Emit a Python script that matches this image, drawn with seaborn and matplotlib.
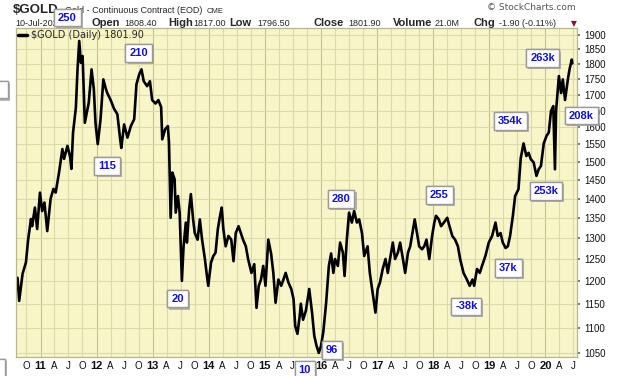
import numpy as np
import pandas as pd
import seaborn as sns
import matplotlib.pyplot as plt
import matplotlib.ticker as mticker
import matplotlib.patheffects as pe

# gold continuous contract (decimal year, price)
years = [
    2010.59, 2010.62, 2010.68, 2010.74, 2010.78, 2010.83, 2010.85, 2010.90, 2010.94, 2010.99,
    2011.03, 2011.07, 2011.12, 2011.18, 2011.23, 2011.27, 2011.33, 2011.39, 2011.42, 2011.48,
    2011.53, 2011.55, 2011.58, 2011.63, 2011.66, 2011.69, 2011.72, 2011.75, 2011.79, 2011.83,
    2011.86, 2011.91, 2011.95, 2011.98, 2012.02, 2012.07, 2012.12, 2012.16, 2012.19, 2012.25,
    2012.31, 2012.37, 2012.42, 2012.44, 2012.49, 2012.55, 2012.61, 2012.67, 2012.71, 2012.76,
    2012.80, 2012.84, 2012.90, 2012.95, 2012.99, 2013.05, 2013.10, 2013.15, 2013.17, 2013.22,
    2013.27, 2013.29, 2013.32, 2013.35, 2013.39, 2013.41, 2013.45, 2013.48, 2013.52, 2013.55,
    2013.59, 2013.61, 2013.65, 2013.68, 2013.72, 2013.75, 2013.80, 2013.84, 2013.88, 2013.93,
    2013.96, 2013.99, 2014.04, 2014.08, 2014.12, 2014.16, 2014.20, 2014.23, 2014.26, 2014.30,
    2014.35, 2014.40, 2014.44, 2014.48, 2014.53, 2014.57, 2014.61, 2014.66, 2014.70, 2014.76,
    2014.81, 2014.85, 2014.89, 2014.93, 2014.97, 2015.01, 2015.06, 2015.11, 2015.15, 2015.19,
    2015.24, 2015.29, 2015.33, 2015.37, 2015.42, 2015.47, 2015.51, 2015.54, 2015.58, 2015.62,
    2015.64, 2015.68, 2015.73, 2015.79, 2015.84, 2015.88, 2015.92, 2015.96, 2016.00, 2016.04,
    2016.09, 2016.14, 2016.18, 2016.22, 2016.25, 2016.30, 2016.34, 2016.39, 2016.42, 2016.46,
    2016.50, 2016.55, 2016.59, 2016.64, 2016.68, 2016.73, 2016.77, 2016.83, 2016.87, 2016.92,
    2016.97, 2017.01, 2017.05, 2017.10, 2017.15, 2017.19, 2017.23, 2017.28, 2017.32, 2017.37,
    2017.41, 2017.46, 2017.50, 2017.55, 2017.59, 2017.63, 2017.67, 2017.71, 2017.75, 2017.80,
    2017.84, 2017.88, 2017.93, 2017.98, 2018.02, 2018.05, 2018.10, 2018.14, 2018.19, 2018.25,
    2018.29, 2018.34, 2018.39, 2018.44, 2018.48, 2018.54, 2018.60, 2018.65, 2018.70, 2018.73,
    2018.78, 2018.83, 2018.87, 2018.93, 2018.99, 2019.05, 2019.11, 2019.15, 2019.20, 2019.24,
    2019.29, 2019.33, 2019.37, 2019.42, 2019.46, 2019.52, 2019.56, 2019.61, 2019.66, 2019.70,
    2019.74, 2019.79, 2019.84, 2019.88, 2019.92, 2019.97, 2020.02, 2020.06, 2020.10, 2020.14,
    2020.17, 2020.19, 2020.24, 2020.28, 2020.31, 2020.35, 2020.40, 2020.43, 2020.47, 2020.48,
]
prices = [
    1208, 1157, 1217, 1243, 1298, 1348, 1330, 1377, 1323, 1416,
    1368, 1390, 1318, 1400, 1426, 1416, 1470, 1536, 1508, 1545,
    1512, 1480, 1584, 1659, 1783, 1879, 1804, 1827, 1613, 1649,
    1675, 1782, 1718, 1613, 1550, 1624, 1749, 1721, 1705, 1683,
    1656, 1639, 1564, 1539, 1608, 1569, 1603, 1624, 1733, 1766,
    1782, 1743, 1727, 1743, 1683, 1672, 1683, 1661, 1564, 1593,
    1603, 1555, 1351, 1470, 1452, 1364, 1407, 1364, 1201, 1281,
    1339, 1290, 1373, 1412, 1347, 1313, 1297, 1347, 1297, 1251,
    1219, 1190, 1243, 1258, 1266, 1322, 1356, 1377, 1322, 1281,
    1306, 1297, 1246, 1313, 1330, 1313, 1297, 1281, 1251, 1219,
    1239, 1142, 1190, 1204, 1235, 1190, 1297, 1264, 1219, 1153,
    1204, 1190, 1204, 1219, 1197, 1183, 1161, 1104, 1088, 1125,
    1151, 1117, 1136, 1183, 1132, 1084, 1064, 1050, 1064, 1091,
    1151, 1235, 1264, 1219, 1251, 1235, 1290, 1266, 1212, 1297,
    1364, 1339, 1368, 1339, 1347, 1313, 1258, 1281, 1219, 1175,
    1132, 1183, 1197, 1228, 1251, 1219, 1251, 1290, 1251, 1266,
    1290, 1251, 1219, 1266, 1281, 1313, 1347, 1313, 1281, 1274,
    1281, 1297, 1251, 1306, 1339, 1356, 1347, 1330, 1339, 1351,
    1330, 1306, 1297, 1281, 1251, 1219, 1204, 1190, 1204, 1190,
    1228, 1219, 1235, 1258, 1290, 1306, 1339, 1306, 1313, 1290,
    1277, 1281, 1306, 1356, 1407, 1425, 1510, 1552, 1516, 1525,
    1507, 1498, 1461, 1479, 1488, 1552, 1574, 1584, 1649, 1664,
    1479, 1649, 1760, 1705, 1749, 1683, 1749, 1782, 1815, 1802,
]

# net position call-outs
note_text = ["250", "210", "115", "20", "10", "96", "280", "255",
             "-38k", "37k", "354k", "253k", "263k", "208k", "        ", "        "]
note_year = [2011.48, 2012.75, 2012.19, 2013.44, 2015.71, 2016.19, 2016.36, 2018.11,
             2018.59, 2019.34, 2019.38, 2020.01, 2019.95, 2020.64, 2010.12, 2010.08]
note_price = [1963, 1837, 1489, 1162, 1017, 1056, 1400, 1410,
              1145, 1230, 1618, 1421, 1819, 1635, 1716, 1021]

y_ticks = list(range(1050, 1901, 50))
quarter_names = {1: None, 4: "A", 7: "J", 10: "O"}


def to_date(yrs):
    yrs = np.asarray(yrs, dtype=float)
    return pd.to_datetime("2011-01-01") + pd.to_timedelta((yrs - 2011) * 365.25, unit="D")


df = pd.DataFrame({"date": to_date(years), "price": prices})

sns.set_theme(style="white")
plt.rcParams["font.family"] = ["Liberation Sans", "DejaVu Sans"]

fig = plt.figure(figsize=(6.2, 3.76), dpi=100)
ax = fig.add_axes([16 / 620, 1 - 357 / 376, (577 - 16) / 620, (357 - 28) / 376])
ax.set_facecolor("#f8f6c8")

sns.lineplot(data=df, x="date", y="price", ax=ax, color="black", linewidth=1.9,
             sort=False, estimator=None, label="$GOLD (Daily) 1801.90")

ax.set_yscale("log")
ax.set_ylim(1042, 1925)
ax.set_xlim(to_date([2010.563])[0], to_date([2020.563])[0])

ax.yaxis.set_major_locator(mticker.FixedLocator(y_ticks))
ax.yaxis.set_minor_locator(mticker.NullLocator())
ax.yaxis.set_major_formatter(mticker.FuncFormatter(lambda v, _: f"{v:.0f}"))
ax.yaxis.set_minor_formatter(mticker.NullFormatter())
ax.yaxis.tick_right()
ax.tick_params(axis="y", length=2, color="#666666", labelsize=7, pad=3, labelcolor="#111111")

quarters = pd.date_range("2010-10-01", "2020-07-01", freq="QS-JAN")
ax.set_xticks(quarters)
ax.set_xticklabels([f"{d.year % 100:02d}" if d.month == 1 else quarter_names[d.month] for d in quarters])
ax.tick_params(axis="x", length=0, labelsize=7, pad=3, labelcolor="#111111")
for lbl, d in zip(ax.get_xticklabels(), quarters):
    if d.month == 1:
        lbl.set_fontweight("bold")
        lbl.set_fontsize(8)

ax.set_xlabel("")
ax.set_ylabel("")
ax.grid(True, color="#dcdaa6", linewidth=0.8)
ax.set_axisbelow(True)
for gl, d in zip(ax.xaxis.get_gridlines(), quarters):
    if d.month == 1:
        gl.set_color("#c4c288")
for sp in ax.spines.values():
    sp.set_color("#b8b68c")
    sp.set_linewidth(0.9)

leg = ax.legend(loc="upper left", frameon=False, handlelength=0.9, handletextpad=0.4,
                borderaxespad=0.15, borderpad=0.1, prop={"family": "DejaVu Sans", "size": 7})
for h in leg.get_lines():
    h.set_linewidth(2.5)

for txt, yr, pr in zip(note_text, note_year, note_price):
    t = ax.text(to_date([yr])[0], pr, txt, ha="center", va="center", color="#1010e6",
                fontsize=8, fontweight="bold", clip_on=False, zorder=8,
                bbox=dict(boxstyle="square,pad=0.35", fc="white", ec="#9a9a9a", lw=1))
    t.get_bbox_patch().set_path_effects([
        pe.withSimplePatchShadow(offset=(1.5, -1.5), shadow_rgbFace="#999999", alpha=0.7),
        pe.Normal()])

# header lines
tf = fig.transFigure
row1 = 1 - 12.7 / 376
row2 = 1 - 26 / 376
ax.text(13 / 620, row1, "$GOLD", transform=tf, fontsize=9.5, fontweight="bold", va="baseline", zorder=1)
ax.text(65 / 620, row1, "Gold - Continuous Contract (EOD)", transform=tf, fontsize=6.5, va="baseline", zorder=1)
ax.text(207 / 620, row1, "CME", transform=tf, fontsize=5.5, va="baseline", zorder=1)
ax.text(487 / 620, 1 - 10 / 376, "\u00a9 StockCharts.com", transform=tf, fontsize=6.5,
        family="DejaVu Sans", color="#555555", va="baseline", zorder=1)

header = [(15, "10-Jul-2020", "normal"), (92, "Open", "bold"), (124, "1808.40", "normal"),
          (168, "High", "bold"), (193, "1817.00", "normal"), (229, "Low", "bold"),
          (257, "1796.50", "normal"), (313, "Close", "bold"), (348, "1801.90", "normal"),
          (393, "Volume", "bold"), (435, "21.0M", "normal"), (474, "Chg", "bold"),
          (499, "-1.90 (-0.11%)", "normal")]
for px, s, w in header:
    ax.text(px / 620, row2, s, transform=tf, fontsize=8 if w == "bold" else 6.5,
            fontweight=w, va="baseline", zorder=1)
ax.text(571 / 620, row2, "\u25bc", transform=tf, fontsize=5.5, color="#8b1030",
        family="DejaVu Sans", va="baseline", zorder=1)

fig.savefig("out.png", dpi=100)
